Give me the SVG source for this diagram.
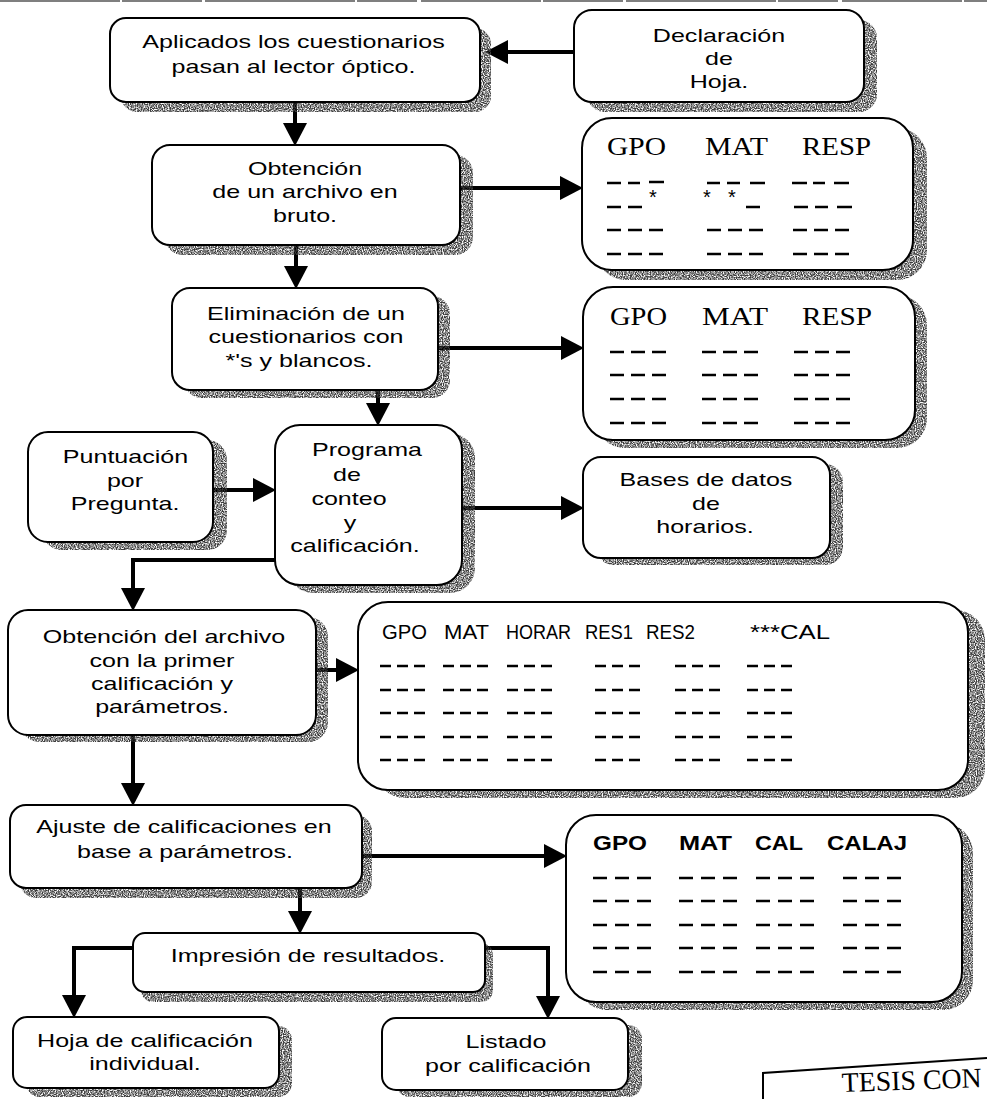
<svg xmlns="http://www.w3.org/2000/svg" width="987" height="1099" viewBox="0 0 987 1099">
  <style>
    .box { fill: #fff; stroke: #000; stroke-width: 2; }
    .sh { fill: #3a3a3a; filter: url(#grain); }
    .t { font-family: "Liberation Sans", Arial, sans-serif; font-size: 19px; fill: #000; text-anchor: middle; }
    .hs { font-family: "Liberation Serif", "Times New Roman", serif; font-size: 25px; fill: #000; }
    .ha { font-family: "Liberation Sans", Arial, sans-serif; font-size: 21px; fill: #000; }
    .hb { font-family: "Liberation Sans", Arial, sans-serif; font-size: 20px; font-weight: bold; fill: #000; }
    .star { font-family: "Liberation Sans", Arial, sans-serif; font-size: 20px; fill: #000; text-anchor: middle; }
    .d { stroke: #000; stroke-width: 2.5; fill: none; }
    .d3 { stroke: #000; stroke-width: 2.5; fill: none; stroke-dasharray: 14 7; }
    .d4 { stroke: #000; stroke-width: 2.5; fill: none; stroke-dasharray: 11 6; }
    .d5 { stroke: #000; stroke-width: 2.5; fill: none; stroke-dasharray: 14 8; }
    .conn path { stroke: #000; stroke-width: 4; fill: none; marker-end: url(#ah); }
  </style>
  <defs>
    <marker id="ah" markerUnits="userSpaceOnUse" viewBox="0 0 24 24" markerWidth="24" markerHeight="24" refX="2" refY="12" orient="auto">
      <path d="M0,0 L23,12 L0,24 z" fill="#000"/>
    </marker>
    <!-- speckled drop shadow texture -->
    <filter id="grain" x="0" y="0" width="100%" height="100%">
      <feTurbulence type="fractalNoise" baseFrequency="0.85" numOctaves="1" seed="3" result="n"/>
      <feColorMatrix in="n" type="matrix" values="0 0 0 0 0  0 0 0 0 0  0 0 0 0 0  3 0 0 0 -0.9" result="a"/>
      <feComposite in="SourceGraphic" in2="a" operator="in"/>
    </filter>
  </defs>

  <rect width="987" height="1099" fill="#fff"/>
  <!-- page edge -->
  <line x1="0" y1="1" x2="987" y2="1" stroke="#555" stroke-width="1.5" stroke-dasharray="120 2 80 3 150 2 60 4"/>

  <!-- connectors -->
  <g id="connectors" class="conn">
    <path d="M574,52 H506"/>
    <path d="M295,102 V125"/>
    <path d="M460,188 H562"/>
    <path d="M296,245 V268"/>
    <path d="M438,348 H563"/>
    <path d="M378,383 V405"/>
    <path d="M213,490 H255"/>
    <path d="M462,508 H563"/>
    <path d="M277,560 H133 V590"/>
    <path d="M316,670 H338"/>
    <path d="M133,735 V785"/>
    <path d="M362,856 H546"/>
    <path d="M300,888 V913"/>
    <path d="M135,948 H74 V997"/>
    <path d="M483,948 H548 V998"/>
  </g>

  <g id="n-aplicados">
    <rect class="sh" x="121" y="28" width="370" height="84" rx="16"/>
    <rect class="box" x="110" y="18" width="370" height="84" rx="16"/>
    <text class="t" transform="translate(293.5 48) scale(1.32 1)">Aplicados los cuestionarios</text>
    <text class="t" transform="translate(293.5 73) scale(1.32 1)">pasan al lector óptico.</text>
  </g>

  <g id="n-declaracion">
    <rect class="sh" x="587" y="20" width="290" height="92" rx="18"/>
    <rect class="box" x="574" y="10" width="290" height="92" rx="18"/>
    <text class="t" transform="translate(719 42) scale(1.32 1)">Declaración</text>
    <text class="t" transform="translate(719 65) scale(1.32 1)">de</text>
    <text class="t" transform="translate(719 88) scale(1.32 1)">Hoja.</text>
  </g>

  <g id="n-bruto">
    <rect class="sh" x="165" y="155" width="308" height="100" rx="18"/>
    <rect class="box" x="152" y="145" width="308" height="100" rx="18"/>
    <text class="t" transform="translate(305 175) scale(1.32 1)">Obtención</text>
    <text class="t" transform="translate(305 198) scale(1.32 1)">de un archivo en</text>
    <text class="t" transform="translate(305 222) scale(1.32 1)">bruto.</text>
  </g>

  <g id="t-bruto">
    <rect class="sh" x="596" y="128" width="331" height="152" rx="30"/>
    <rect class="box" x="582" y="118" width="331" height="152" rx="30"/>
    <text class="hs" x="607" y="155" textLength="59" lengthAdjust="spacingAndGlyphs">GPO</text>
    <text class="hs" x="705" y="155" textLength="63" lengthAdjust="spacingAndGlyphs">MAT</text>
    <text class="hs" x="802" y="155" textLength="69" lengthAdjust="spacingAndGlyphs">RESP</text>
    <path class="d" d="M607,183h14M628,183h12M649,182h15M707,183h13M727,183h13M750,183h15M792,183h15M813,183h12M834,183h15"/>
    <text class="star" x="653" y="204">*</text>
    <text class="star" x="707" y="204">*</text>
    <text class="star" x="732" y="204">*</text>
    <path class="d" d="M607,207h14M628,207h14M746,207h14M794,207h14M815,207h13M837,207h15"/>
    <path class="d3" d="M607,230h57M707,230h57M793,230h57M607,254h57M707,254h57M793,254h57"/>
  </g>

  <g id="n-eliminacion">
    <rect class="sh" x="184" y="296" width="266" height="102" rx="18"/>
    <rect class="box" x="172" y="288" width="266" height="102" rx="18"/>
    <text class="t" transform="translate(306 320) scale(1.32 1)">Eliminación de un</text>
    <text class="t" transform="translate(306 343) scale(1.32 1)">cuestionarios con</text>
    <text class="t" transform="translate(299 367) scale(1.32 1)">*'s y blancos.</text>
  </g>

  <g id="t-limpio">
    <rect class="sh" x="595" y="295" width="332" height="153" rx="30"/>
    <rect class="box" x="583" y="287" width="332" height="153" rx="30"/>
    <text class="hs" x="610" y="325" textLength="57" lengthAdjust="spacingAndGlyphs">GPO</text>
    <text class="hs" x="702" y="325" textLength="66" lengthAdjust="spacingAndGlyphs">MAT</text>
    <text class="hs" x="802" y="325" textLength="70" lengthAdjust="spacingAndGlyphs">RESP</text>
    <path class="d3" d="M610,352h56M702,352h56M794,352h57M610,375h56M702,375h56M794,375h57M610,399h56M702,399h56M794,399h57M610,423h56M702,423h56M794,423h57"/>
  </g>

  <g id="n-puntuacion">
    <rect class="sh" x="42" y="440" width="185" height="110" rx="20"/>
    <rect class="box" x="28" y="432" width="185" height="110" rx="20"/>
    <text class="t" transform="translate(125.5 463) scale(1.32 1)">Puntuación</text>
    <text class="t" transform="translate(125 487) scale(1.32 1)">por</text>
    <text class="t" transform="translate(125 510) scale(1.32 1)">Pregunta.</text>
  </g>

  <g id="n-programa">
    <rect class="sh" x="288" y="433" width="187" height="160" rx="25"/>
    <rect class="box" x="275" y="425" width="187" height="160" rx="25"/>
    <text class="t" transform="translate(367 456) scale(1.32 1)">Programa</text>
    <text class="t" transform="translate(347 481) scale(1.32 1)">de</text>
    <text class="t" transform="translate(349 505) scale(1.32 1)">conteo</text>
    <text class="t" transform="translate(350 529) scale(1.32 1)">y</text>
    <text class="t" transform="translate(355 552) scale(1.32 1)">calificación.</text>
  </g>

  <g id="n-bases">
    <rect class="sh" x="596" y="464" width="247" height="101" rx="18"/>
    <rect class="box" x="583" y="457" width="247" height="101" rx="18"/>
    <text class="t" transform="translate(706 486) scale(1.32 1)">Bases de datos</text>
    <text class="t" transform="translate(706 510) scale(1.32 1)">de</text>
    <text class="t" transform="translate(705 533) scale(1.32 1)">horarios.</text>
  </g>

  <g id="n-primer">
    <rect class="sh" x="20" y="617" width="308" height="125" rx="20"/>
    <rect class="box" x="8" y="610" width="308" height="125" rx="20"/>
    <text class="t" transform="translate(164 643) scale(1.32 1)">Obtención del archivo</text>
    <text class="t" transform="translate(162 667) scale(1.32 1)">con la primer</text>
    <text class="t" transform="translate(162 690) scale(1.32 1)">calificación y</text>
    <text class="t" transform="translate(162 713) scale(1.32 1)">parámetros.</text>
  </g>

  <g id="t-primer">
    <rect class="sh" x="375" y="610" width="610" height="188" rx="30"/>
    <rect class="box" x="358" y="602" width="610" height="188" rx="30"/>
    <text class="ha" x="382" y="639" textLength="45" lengthAdjust="spacingAndGlyphs">GPO</text>
    <text class="ha" x="444" y="639" textLength="45" lengthAdjust="spacingAndGlyphs">MAT</text>
    <text class="ha" x="506" y="639" textLength="65" lengthAdjust="spacingAndGlyphs">HORAR</text>
    <text class="ha" x="585" y="639" textLength="48" lengthAdjust="spacingAndGlyphs">RES1</text>
    <text class="ha" x="646" y="639" textLength="49" lengthAdjust="spacingAndGlyphs">RES2</text>
    <text class="ha" x="750" y="639" textLength="80" lengthAdjust="spacingAndGlyphs">***CAL</text>
    <path class="d4" d="M380,666h45M443,666h45M507,666h45M595,666h45M675,666h45M747,666h45
                        M380,690h45M443,690h45M507,690h45M595,690h45M675,690h45M747,690h45
                        M380,713h45M443,713h45M507,713h45M595,713h45M675,713h45M747,713h45
                        M380,737h45M443,737h45M507,737h45M595,737h45M675,737h45M747,737h45
                        M380,760h45M443,760h45M507,760h45M595,760h45M675,760h45M747,760h45"/>
  </g>

  <g id="n-ajuste">
    <rect class="sh" x="20" y="815" width="352" height="83" rx="16"/>
    <rect class="box" x="10" y="805" width="352" height="83" rx="16"/>
    <text class="t" transform="translate(184 833) scale(1.32 1)">Ajuste de calificaciones en</text>
    <text class="t" transform="translate(185 858) scale(1.32 1)">base a parámetros.</text>
  </g>

  <g id="t-ajuste">
    <rect class="sh" x="577" y="823" width="396" height="187" rx="30"/>
    <rect class="box" x="566" y="815" width="396" height="187" rx="30"/>
    <text class="hb" x="593" y="850" textLength="54" lengthAdjust="spacingAndGlyphs">GPO</text>
    <text class="hb" x="679" y="850" textLength="53" lengthAdjust="spacingAndGlyphs">MAT</text>
    <text class="hb" x="755" y="850" textLength="48" lengthAdjust="spacingAndGlyphs">CAL</text>
    <text class="hb" x="827" y="850" textLength="80" lengthAdjust="spacingAndGlyphs">CALAJ</text>
    <path class="d5" d="M593,878h58M679,878h58M756,878h58M843,878h58
                        M593,901h58M679,901h58M756,901h58M843,901h58
                        M593,925h58M679,925h58M756,925h58M843,925h58
                        M593,948h58M679,948h58M756,948h58M843,948h58
                        M593,972h58M679,972h58M756,972h58M843,972h58"/>
  </g>

  <g id="n-impresion">
    <rect class="sh" x="141" y="943" width="352" height="59" rx="12"/>
    <rect class="box" x="133" y="933" width="352" height="59" rx="12"/>
    <text class="t" transform="translate(308 962) scale(1.32 1)">Impresión de resultados.</text>
  </g>

  <g id="n-hoja">
    <rect class="sh" x="26" y="1026" width="266" height="71" rx="14"/>
    <rect class="box" x="13" y="1017" width="266" height="71" rx="14"/>
    <text class="t" transform="translate(145 1047) scale(1.32 1)">Hoja de calificación</text>
    <text class="t" transform="translate(145 1070) scale(1.32 1)">individual.</text>
  </g>

  <g id="n-listado">
    <rect class="sh" x="396" y="1025" width="246" height="72" rx="14"/>
    <rect class="box" x="382" y="1018" width="246" height="72" rx="14"/>
    <text class="t" transform="translate(506 1048) scale(1.32 1)">Listado</text>
    <text class="t" transform="translate(508 1072) scale(1.32 1)">por calificación</text>
  </g>

  <!-- thesis stamp, bottom right corner -->
  <g id="stamp">
    <path d="M763,1099 V1073 L987,1058" stroke="#000" stroke-width="2" fill="none"/>
    <text x="842" y="1092" transform="rotate(-2 842 1092)" font-family="Liberation Serif, Times New Roman, serif" font-size="28" textLength="140" lengthAdjust="spacingAndGlyphs" fill="#000">TESIS CON</text>
  </g>
</svg>
